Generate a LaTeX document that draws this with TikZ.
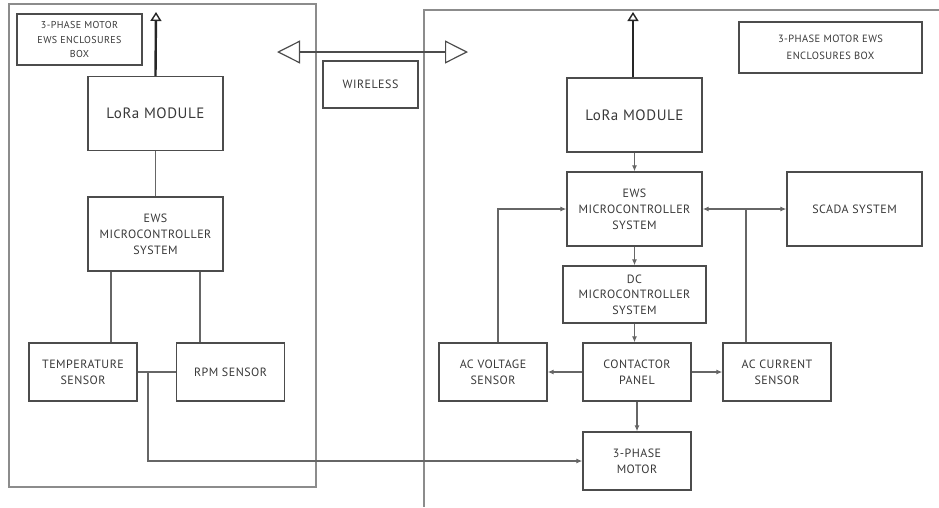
\documentclass[tikz,border=0pt]{standalone}
\usepackage{fontspec}
\setsansfont{PT Sans}[LetterSpace=4]
\usetikzlibrary{arrows.meta,positioning,calc,backgrounds}

\begin{document}
\begin{tikzpicture}[
  font=\sffamily\fontsize{12}{16}\selectfont,
  x=1pt, y=-1pt,
  block/.style={draw=black!70, line width=1.4pt, align=center, text=black!78, inner sep=0pt, minimum width=108pt, minimum height=58pt},
  big/.style={block, minimum width=135pt, minimum height=74pt},
  tagbox/.style={block, minimum height=51pt},
  lorafont/.style={font=\sffamily\fontsize{15}{16}\selectfont},
  encl/.style={draw=black!45, line width=1.2pt},
  link/.style={draw=black!60, line width=1.1pt},
  arrow/.style={link, -{Latex[length=6pt, width=5pt]}},
  antenna/.style={draw=black!85, line width=2.4pt, -{Triangle[open, length=9pt, width=11pt, line width=1.4pt]}},
  wless/.style={draw=black!70, line width=1.2pt, {Triangle[open, length=23pt, width=23pt]}-{Triangle[open, length=23pt, width=23pt]}}
]
\useasboundingbox (0,0) rectangle (939,507);

% enclosures
\draw[encl] (9,4) rectangle (316,487);
\draw[encl] (939,10) -- (424,10) -- (424,507);

% left box
\node[tagbox, minimum width=125pt, font=\sffamily\fontsize{10}{14.5}\selectfont] (ltag) at (79.5,39.5) {3-PHASE MOTOR\\EWS ENCLOSURES\\BOX};
\node[big, lorafont] (llora) at (155.5,113.5) {LoRa MODULE};
\node[big] (lews) at (155.5,234) {EWS\\MICROCONTROLLER\\SYSTEM};
\node[block] (temp) at (83,372) {TEMPERATURE\\SENSOR};
\node[block] (rpm) at (230.5,372) {RPM SENSOR};
\coordinate (lant) at (156,12);
\coordinate (tj) at (148,0 |- temp.east);

% wireless
\node[block, minimum width=95pt, minimum height=47pt] (wireless) at (370.5,84.5) {WIRELESS};
\coordinate (wl) at (277,52);
\coordinate (wr) at (468,52);

% right box
\node[tagbox, minimum width=183pt, font=\sffamily\fontsize{10.5}{17.5}\selectfont] (rtag) at (830.5,47.5) {3-PHASE MOTOR EWS\\ENCLOSURES BOX};
\node[big, lorafont] (rlora) at (634.5,115) {LoRa MODULE};
\node[big] (rews) at (634.5,209) {EWS\\MICROCONTROLLER\\SYSTEM};
\node[big] (scada) at (854.5,209) {SCADA SYSTEM};
\node[block, minimum width=143pt, minimum height=57pt, font=\sffamily\fontsize{12}{15.5}\selectfont] (dc) at (634.5,294.5) {DC\\MICROCONTROLLER\\SYSTEM};
\node[block] (acv) at (493,372) {AC VOLTAGE\\SENSOR};
\node[block] (cont) at (637,372) {CONTACTOR\\PANEL};
\node[block] (aci) at (777,372) {AC CURRENT\\SENSOR};
\node[block] (motor) at (637,461) {3-PHASE\\MOTOR};
\coordinate (rant) at (633,12);
\coordinate (cj) at (746,0 |- rews.east);

\draw[antenna] (llora.north) -- (lant);
\draw[link] (llora.south) -- (lews.north);
\draw[link] (111,0 |- lews.south) -- (111,0 |- temp.north);
\draw[link] (200,0 |- lews.south) -- (200,0 |- rpm.north);
\draw[link] (temp.east) -- (rpm.west);
\draw[arrow] (tj) |- (motor.west);

\draw[wless] (wl) -- (wr);

\draw[antenna] (rlora.north -| rant) -- (rant);
\draw[arrow] (rlora.south) -- (rews.north);
\draw[arrow] (rews.south) -- (dc.north);
\draw[arrow] (dc.south) -- (dc.south |- cont.north);
\draw[arrow] (cont.west) -- (acv.east);
\draw[arrow] (cont.east) -- (aci.west);
\draw[arrow] (cont.south) -- (motor.north);
\draw[arrow] (498,0 |- acv.north) |- (rews.west);
\draw[link] (aci.north -| cj) -- (cj);
\draw[arrow] (cj) -- (rews.east);
\draw[arrow] (cj) -- (scada.west);
\end{tikzpicture}
\end{document}
